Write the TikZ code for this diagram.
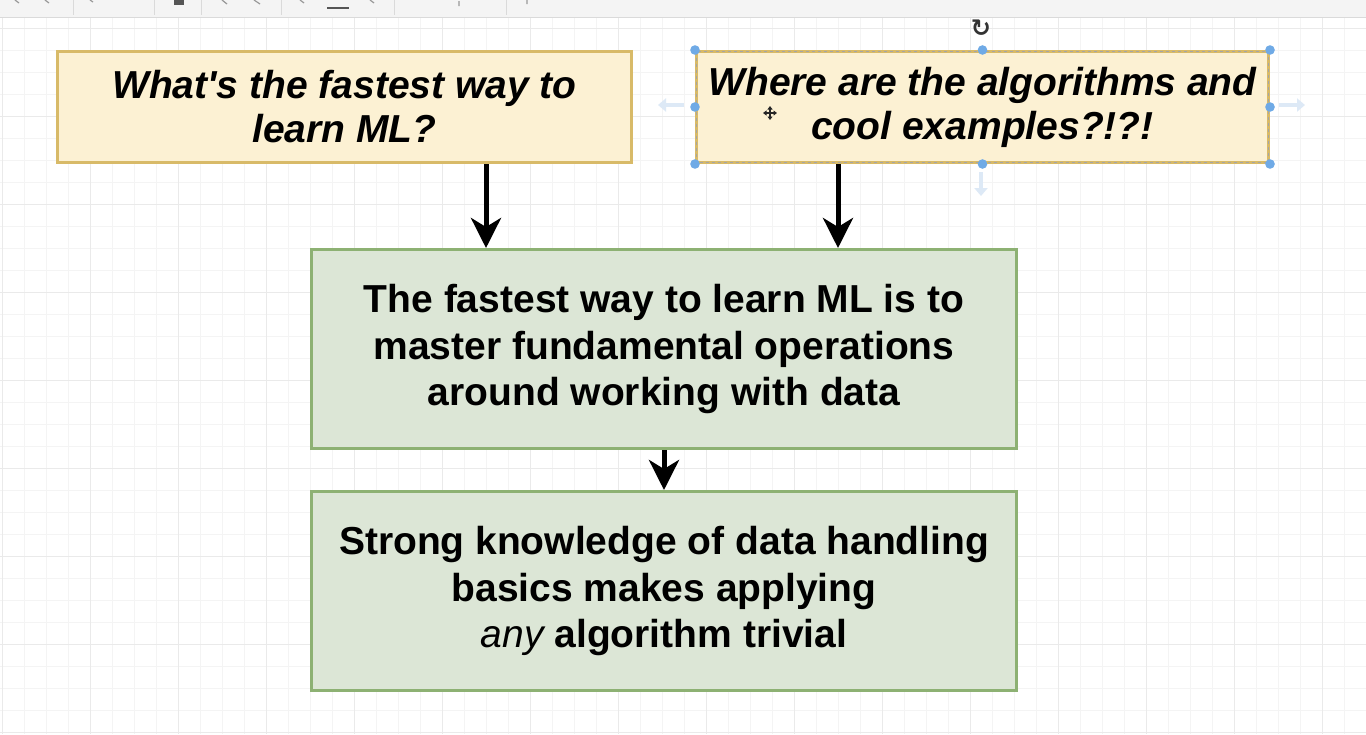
\documentclass[tikz,border=0pt]{standalone}
\usepackage{fontspec}
\setmainfont{Liberation Sans}[Ligatures=TeXOff]
\newfontfamily\symfont{DejaVu Sans}
\usetikzlibrary{arrows.meta}
\definecolor{yfill}{HTML}{FCF1D3}
\definecolor{ydraw}{HTML}{D8BA68}
\definecolor{gfill}{HTML}{DCE6D6}
\definecolor{gdraw}{HTML}{8DB173}
\definecolor{gridminor}{HTML}{F4F4F4}
\definecolor{gridmajor}{HTML}{EAEAEA}
\definecolor{handle}{HTML}{6FAAE6}
\definecolor{hint}{HTML}{DDE9F6}
\definecolor{tbar}{HTML}{F4F4F4}
\definecolor{tline}{HTML}{DADADA}
\definecolor{ticon}{HTML}{555555}
\begin{document}
\begin{tikzpicture}[x=1pt,y=-1pt,
  qbox/.style={draw=ydraw,fill=yfill,line width=3pt,inner sep=0pt,align=center,
    minimum width=574pt,minimum height=111pt,anchor=north west,
    font=\fontsize{39}{44}\selectfont\bfseries\itshape},
  abox/.style={draw=gdraw,fill=gfill,line width=3pt,inner sep=0pt,align=center,
    minimum width=705pt,minimum height=199pt,anchor=north west,
    font=\fontsize{39}{46.5}\selectfont\bfseries},
  flow/.style={line width=5pt,-{Stealth[length=30pt,width=30pt,inset=9pt]}},
  hintarrow/.style={hint,line width=4pt,-{Triangle[length=8pt,width=13pt]}},
  handledot/.style={fill=handle},
]
\useasboundingbox (0,0) rectangle (1366,734);
\fill[white] (0,0) rectangle (1366,734);
% grid
\foreach \x in {2,24,...,1366} \draw[gridminor,line width=1pt] (\x,18) -- (\x,734);
\foreach \y in {28,50,...,734} \draw[gridminor,line width=1pt] (0,\y) -- (1366,\y);
\foreach \x in {2,90,...,1366} \draw[gridmajor,line width=1pt] (\x,18) -- (\x,734);
\foreach \y in {28,116,...,734} \draw[gridmajor,line width=1pt] (0,\y) -- (1366,\y);
% toolbar
\fill[tbar] (0,0) rectangle (1366,17);
\draw[tline,line width=1.2pt] (0,17.5) -- (1366,17.5);
\foreach \x in {73,154,201,281,394,506} \draw[tline,line width=1pt] (\x,0) -- (\x,15);
\fill[ticon] (174,0) rectangle (184,5);
\draw[ticon,line width=2pt] (327,8) -- (349,8);
\draw[ticon!60,line width=1.2pt] (15,0) -- (19,3) (45,0) -- (49,3) (90,0) -- (93,2) (222,0) -- (227,4) (254,0) -- (260,4) (300,0) -- (304,3) (370,0) -- (374,3) (459,1) -- (459,6) (527,0) -- (527,4);
% boxes
\node[qbox] (b1) at (56,50) {What's the fastest way to\\learn ML?};
\node[qbox,minimum width=572pt] (b2) at (695,50) {Where are the algorithms and\\cool examples?!?!};
\node[abox] (b3) at (310,248) {The fastest way to learn ML is to\\master fundamental operations\\around working with data};
\node[abox] (b4) at (310,490) {Strong knowledge of data handling\\basics makes applying\\{\mdseries\itshape any} algorithm trivial};
% connectors
\coordinate (xa) at (486,0);
\coordinate (xb) at (838,0);
\draw[flow] (b1.south -| xa) -- (b3.north -| xa);
\draw[flow] (b2.south -| xb) -- (b3.north -| xb);
\draw[flow] (b3.south) -- (b4.north);
% selection of b2
\draw[gray!70,line width=1.2pt,dash pattern=on 3pt off 3pt] ([shift={(1.5,1.5)}]b2.north west) rectangle ([shift={(-1.5,-1.5)}]b2.south east);
\coordinate (rot) at (981,28);
\node[font=\symfont\bfseries\fontsize{24}{24}\selectfont,text=black!80,inner sep=0pt] (roticon) at (rot) {↻};
\coordinate (hl1) at (684,105); \coordinate (hl2) at (658,105);
\coordinate (hr1) at (1279,105); \coordinate (hr2) at (1305,105);
\coordinate (hd1) at (981,172); \coordinate (hd2) at (981,196);
\draw[hintarrow] (hl1) -- (hl2);
\draw[hintarrow] (hr1) -- (hr2);
\draw[hintarrow] (hd1) -- (hd2);
\foreach \a in {north west,north,north east,west,east,south west,south,south east}
  \fill[handledot] ([shift={(0,0)}]b2.\a) circle (4.8);
% move cursor
\coordinate (cur) at (770,113);
\draw[black!85,line width=1.6pt,{Triangle[length=3.5pt,width=5pt]}-{Triangle[length=3.5pt,width=5pt]}] ([xshift=-7]cur) -- ([xshift=7]cur);
\draw[black!85,line width=1.6pt,{Triangle[length=3.5pt,width=5pt]}-{Triangle[length=3.5pt,width=5pt]}] ([yshift=-7]cur) -- ([yshift=7]cur);
\end{tikzpicture}
\end{document}
